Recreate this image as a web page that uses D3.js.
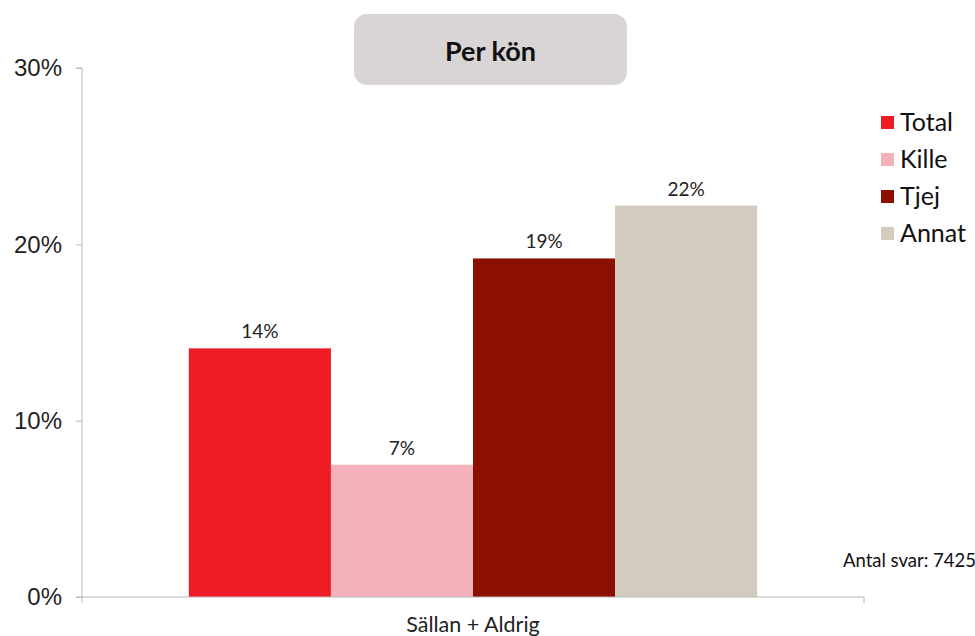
<!DOCTYPE html>
<html>
<head>
<meta charset="utf-8">
<script src="https://cdn.jsdelivr.net/npm/d3@7"></script>
<style>
	body { margin: 0; background: #fff; }
	svg { display: block; }
</style>
</head>
<body>
<svg width="975" height="636"></svg>
<script>
// data
var categories = ["Sällan + Aldrig"];
var series = ["Total", "Kille", "Tjej", "Annat"];
var values = [14.1, 7.5, 19.2, 22.2];
var labels = ["14%", "7%", "19%", "22%"];
var colors = ["#ed1c24", "#f4b1bb", "#8b1000", "#d3cbbd"];
var yTicks = [0, 10, 20, 30];

var svg = d3.select("svg"),
	width = +svg.attr("width"),
	height = +svg.attr("height");

var margin = {left: 82, right: 111, top: 68, bottom: 39};

var x0 = d3.scaleBand()
	.domain(categories)
	.range([margin.left, width - margin.right])
	.paddingInner(0)
	.paddingOuter(0.188);

var x1 = d3.scaleBand()
	.domain(series)
	.range([0, x0.bandwidth()]);

var y = d3.scaleLinear()
	.domain([0, 30])
	.range([height - margin.bottom, margin.top]);

var axisColor = "#b8b8b8";

// y axis
var yAxis = svg.append("g")
	.attr("transform", "translate(" + margin.left + ",0)")
	.call(d3.axisLeft(y).tickValues(yTicks).tickSize(6).tickPadding(14)
		.tickFormat(function (d) { return d + "%"; }));
yAxis.select(".domain").attr("stroke", axisColor).attr("d",
	"M-6," + y(30) + "H0V" + (y(0) + 6));
yAxis.selectAll(".tick line").attr("stroke", axisColor);
yAxis.selectAll(".tick text")
	.style("font-family", "'Liberation Sans', Arial, sans-serif")
	.style("font-size", "24px")
	.attr("fill", "#222");

// bars
var g = svg.append("g")
	.selectAll("g")
	.data(categories)
	.enter().append("g")
	.attr("transform", function (d) { return "translate(" + x0(d) + ",0)"; });

g.selectAll("rect")
	.data(series)
	.enter().append("rect")
	.attr("x", function (d) { return x1(d); })
	.attr("y", function (d, i) { return y(values[i]); })
	.attr("width", x1.bandwidth())
	.attr("height", function (d, i) { return y(0) - y(values[i]); })
	.style("fill", function (d, i) { return colors[i]; });

g.selectAll("text.val")
	.data(series)
	.enter().append("text")
	.attr("class", "val")
	.attr("x", function (d) { return x1(d) + x1.bandwidth() / 2; })
	.attr("y", function (d, i) { return y(values[i]) - 10; })
	.attr("text-anchor", "middle")
	.style("font-family", "Lato, sans-serif")
	.style("font-size", "19px")
	.attr("fill", "#222")
	.text(function (d, i) { return labels[i]; });

// x axis
var xAxis = svg.append("g")
	.attr("transform", "translate(0," + y(0) + ")")
	.call(d3.axisBottom(x0).tickSize(0).tickPadding(14));
xAxis.select(".domain").attr("stroke", axisColor).attr("d",
	"M" + (margin.left - 6) + ",0H" + (width - margin.right) + "V6");
xAxis.selectAll(".tick text")
	.attr("dy", null)
	.attr("y", 35)
	.style("font-family", "Lato, sans-serif")
	.style("font-size", "21.5px")
	.attr("fill", "#222");

// title box
svg.append("rect")
	.attr("x", 354)
	.attr("y", 14)
	.attr("width", 273)
	.attr("height", 71)
	.attr("rx", 13)
	.style("fill", "#d9d5d5");
svg.append("text")
	.attr("x", 490.5)
	.attr("y", 61)
	.attr("text-anchor", "middle")
	.style("font-family", "Lato, sans-serif")
	.style("font-weight", "bold")
	.style("font-size", "27px")
	.attr("fill", "#111")
	.text("Per kön");

// legend
var legend = svg.append("g")
	.selectAll("g")
	.data(series)
	.enter().append("g")
	.attr("transform", function (d, i) { return "translate(881," + (122.5 + i * 37) + ")"; });
legend.append("rect")
	.attr("x", 0)
	.attr("y", -6.5)
	.attr("width", 13)
	.attr("height", 13)
	.style("fill", function (d, i) { return colors[i]; });
legend.append("text")
	.attr("x", 19)
	.attr("y", 8)
	.style("font-family", "Lato, sans-serif")
	.style("font-size", "25px")
	.attr("fill", "#111")
	.text(function (d) { return d; });

// note
svg.append("text")
	.attr("x", 843)
	.attr("y", 567)
	.style("font-family", "Lato, sans-serif")
	.style("font-size", "18.5px")
	.attr("fill", "#111")
	.text("Antal svar: 7425");
</script>
</body>
</html>
